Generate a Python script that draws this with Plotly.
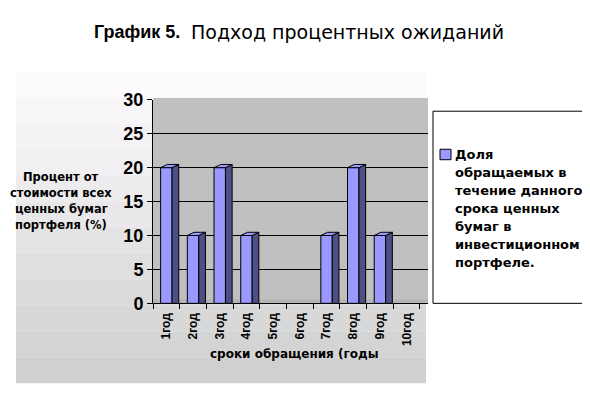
import plotly.graph_objects as go

# данные графика
periods = ['1год', '2год', '3год', '4год', '5год', '6год', '7год', '8год', '9год', '10год']
shares = [20, 10, 20, 10, 0, 0, 10, 20, 10, 0]
y_ticks = [0, 5, 10, 15, 20, 25, 30]
legend_lines = ['Доля', 'обращаемых в', 'течение данного', 'срока ценных',
                'бумаг в', 'инвестиционном', 'портфеле.']
ytitle_lines = ['Процент от', 'стоимости всех', 'ценных бумаг', 'портфеля (%)']

W, H = 590, 409
OFF = 8  # страница рисуется со сдвигом 8px (отступ body)
FRONT = '#9999FF'
SIDE = '#4D4F85'
HALF = 0.214   # половина ширины передней грани
DX, DY = 0.25, 0.47  # глубина "3D"


def px(x):
    return (x - OFF) / W


def py(y):
    return 1 - (y - OFF) / H


fig = go.Figure()

idx = list(range(len(periods)))

# передние грани (у нулевых столбцов без контура)
fig.add_trace(go.Bar(
    x=idx, y=shares, width=2 * HALF,
    marker=dict(color=FRONT,
                line=dict(color='black', width=[1 if v else 0 for v in shares])),
    showlegend=False, hoverinfo='skip'
))

# боковые и верхние грани
side_x, side_y, top_x, top_y = [], [], [], []
for i, v in zip(idx, shares):
    if v == 0:
        continue
    side_x += [i + HALF, i + HALF, i + HALF + DX, i + HALF + DX, i + HALF, None]
    side_y += [0, v, v + DY, 0, 0, None]
    top_x += [i - HALF, i + HALF, i + HALF + DX, i - HALF + DX, i - HALF, None]
    top_y += [v, v, v + DY, v + DY, v, None]

fig.add_trace(go.Scatter(
    x=side_x, y=side_y, mode='lines', fill='toself', fillcolor=SIDE,
    line=dict(color='black', width=1), showlegend=False, hoverinfo='skip'
))
fig.add_trace(go.Scatter(
    x=top_x, y=top_y, mode='lines', fill='toself', fillcolor=FRONT,
    line=dict(color='black', width=1), showlegend=False, hoverinfo='skip'
))

# фон: градиент полосами
shapes = []
n_bands = 12
top_c, bot_c = (253, 250, 253), (208, 208, 208)
y0, y1 = 64, 392
for k in range(n_bands):
    t = k / (n_bands - 1)
    c = tuple(round(a + (b - a) * t) for a, b in zip(top_c, bot_c))
    ya = y0 + (y1 - y0) * k / n_bands
    yb = y0 + (y1 - y0) * (k + 1) / n_bands
    shapes.append(dict(type='rect', xref='paper', yref='paper',
                       x0=px(16), x1=px(426), y0=py(yb), y1=py(ya),
                       fillcolor='rgb(%d,%d,%d)' % c, line=dict(width=0), layer='below'))

# серая задняя стенка и пол
shapes.append(dict(type='rect', xref='paper', yref='paper',
                   x0=px(153), x1=px(428), y0=py(308), y1=py(92),
                   fillcolor='#C0C0C0', line=dict(width=0), layer='below'))
shapes.append(dict(type='rect', xref='paper', yref='paper',
                   x0=px(153), x1=px(428), y0=py(308), y1=py(304),
                   fillcolor='#B4B4B4', line=dict(width=0), layer='below'))

# рамка легенды и значок
shapes.append(dict(type='rect', xref='paper', yref='paper',
                   x0=px(433), x1=px(583), y0=py(308), y1=py(106),
                   fillcolor='white', line=dict(color='black', width=1), layer='below'))
shapes.append(dict(type='rect', xref='paper', yref='paper',
                   x0=px(440), x1=px(451), y0=py(157), y1=py(146),
                   fillcolor=FRONT, line=dict(color='black', width=1)))

annotations = [
    dict(text='<b>График 5.</b>', x=px(182), y=py(23), xref='paper', yref='paper',
         xanchor='right', yanchor='middle', showarrow=False,
         font=dict(family='Liberation Sans', size=18, color='black')),
    dict(text='Подход процентных ожиданий', x=px(189), y=py(23), xref='paper', yref='paper',
         xanchor='left', yanchor='middle', showarrow=False,
         font=dict(family='DejaVu Sans', size=19, color='black')),
]

for n, line in enumerate(legend_lines):
    annotations.append(dict(
        text='<b>%s</b>' % line, x=px(453), y=py(151 + n * 19),
        xref='paper', yref='paper', xanchor='left', yanchor='middle', showarrow=False,
        font=dict(family='DejaVu Sans', size=13, color='black')
    ))

for n, line in enumerate(ytitle_lines):
    annotations.append(dict(
        text='<b>%s</b>' % line, x=px(61), y=py(175 + n * 17),
        xref='paper', yref='paper', xanchor='center', yanchor='middle', showarrow=False,
        font=dict(family='DejaVu Sans', size=11.5, color='black')
    ))

annotations.append(dict(
    text='<b>сроки обращения (годы</b>', x=px(294), y=py(361),
    xref='paper', yref='paper', xanchor='center', yanchor='middle', showarrow=False,
    font=dict(family='DejaVu Sans', size=12, color='black')
))

fig.update_layout(
    width=W, height=H,
    margin=dict(l=0, r=0, t=0, b=0),
    paper_bgcolor='white',
    plot_bgcolor='rgba(0,0,0,0)',
    showlegend=False,
    shapes=shapes,
    annotations=annotations,
    xaxis=dict(
        domain=[px(153), px(428)],
        range=[-0.5, 9.8],
        tickvals=idx, ticktext=periods,
        tickangle=-90, ticks='', ticklabelstandoff=4,
        tickfont=dict(family='Liberation Sans', size=12, color='black', weight='bold'),
        showgrid=False, zeroline=False,
        showline=True, linecolor='black', linewidth=1,
        minor=dict(ticks='outside', tick0=-0.5, dtick=1, ticklen=5,
                   tickcolor='black', showgrid=False),
    ),
    yaxis=dict(
        domain=[py(308), py(94)],
        range=[0, 30],
        tickvals=y_ticks,
        ticks='outside', ticklen=5, tickcolor='black',
        tickfont=dict(family='Liberation Sans', size=18, color='black', weight='bold'),
        showgrid=True, gridcolor='black', gridwidth=1,
        zeroline=False,
        showline=True, linecolor='black', linewidth=1,
    ),
)

fig.write_html("out.html")
